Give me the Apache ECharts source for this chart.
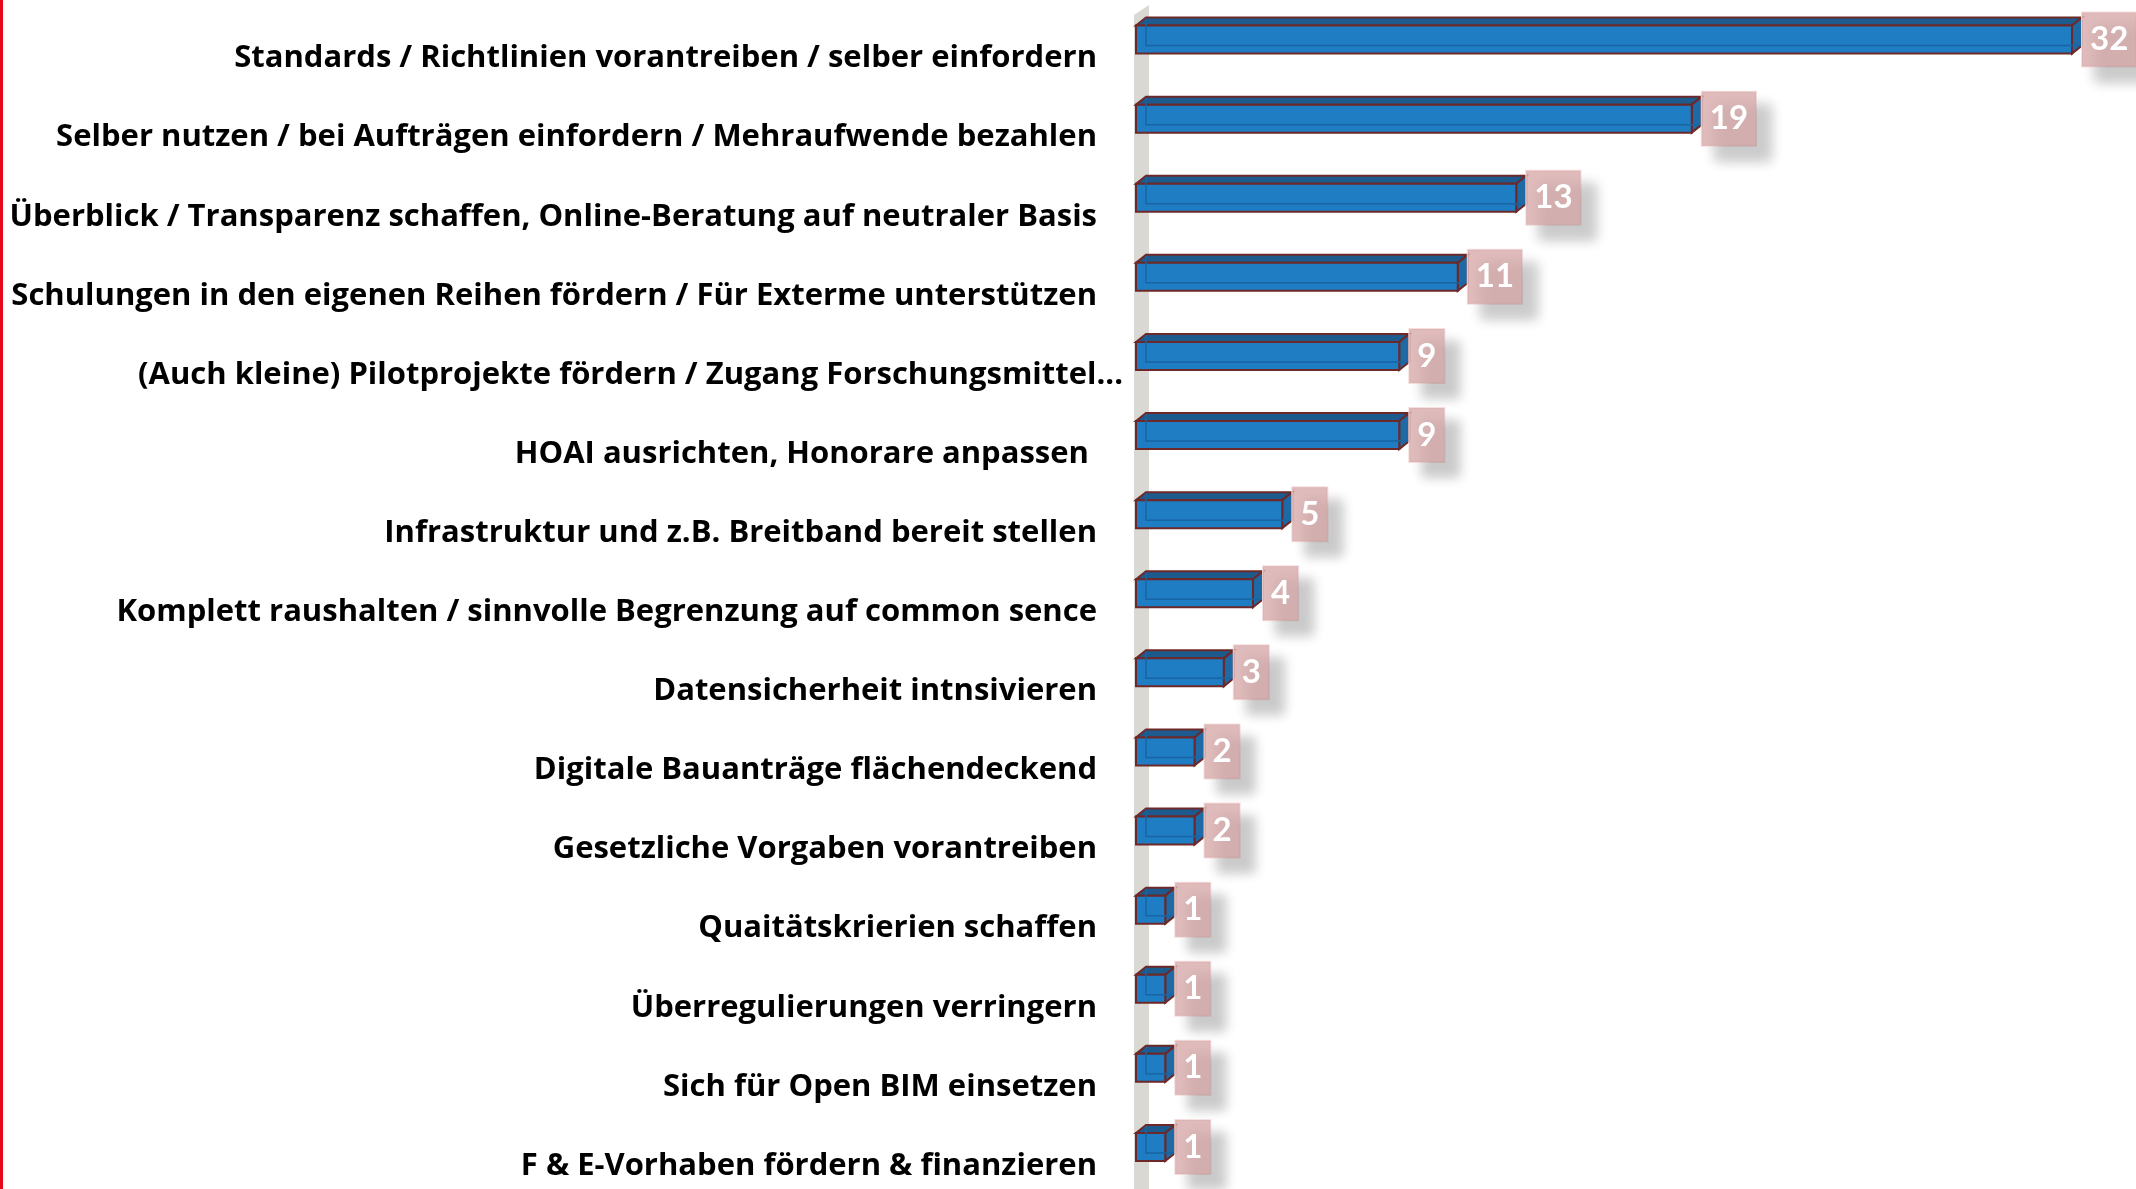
<!DOCTYPE html>
<html>
<head>
<meta charset="utf-8">
<script src="https://cdn.jsdelivr.net/npm/echarts@6/dist/echarts.min.js"></script>
<style>
    html, body {margin: 0; padding: 0; background: #fff;}
    #chart {width: 2136px; height: 1189px;}
</style>
</head>
<body>
<div id="chart"></div>
<script>
var categories = [
    'Standards / Richtlinien vorantreiben / selber einfordern',
    'Selber nutzen / bei Aufträgen einfordern / Mehraufwende bezahlen',
    'Überblick / Transparenz schaffen, Online-Beratung auf neutraler Basis',
    'Schulungen in den eigenen Reihen fördern / Für Exterme unterstützen',
    '(Auch kleine) Pilotprojekte fördern / Zugang Forschungsmittel...',
    'HOAI ausrichten, Honorare anpassen ',
    'Infrastruktur und z.B. Breitband bereit stellen',
    'Komplett raushalten / sinnvolle Begrenzung auf common sence',
    'Datensicherheit intnsivieren',
    'Digitale Bauanträge flächendeckend',
    'Gesetzliche Vorgaben vorantreiben',
    'Quaitätskrierien schaffen',
    'Überregulierungen verringern',
    'Sich für Open BIM einsetzen',
    'F & E-Vorhaben fördern & finanzieren'
];
var values = [32, 19, 13, 11, 9, 9, 5, 4, 3, 2, 2, 1, 1, 1, 1];

var DX = 10, DY = 8, HALF = 14;
var EDGE = '#6e2828';

function renderBar(params, api) {
    var v = api.value(0);
    var idx = api.value(1);
    var p0 = api.coord([0, idx]);
    var p1 = api.coord([v, idx]);
    var x0 = p0[0], x1 = p1[0], c = p0[1];
    var yt = c - HALF, yb = c + HALF;

    return {
        type: 'group',
        children: [
            {
                type: 'polygon',
                shape: {points: [[x0, yt], [x0 + DX, yt - DY], [x1 + DX, yt - DY], [x1, yt]]},
                style: {fill: '#1d5b8e', stroke: EDGE, lineWidth: 2}
            },
            {
                type: 'polygon',
                shape: {points: [[x1, yt], [x1 + DX, yt - DY], [x1 + DX, yb - DY], [x1, yb]]},
                style: {fill: '#1e6aa6', stroke: EDGE, lineWidth: 2}
            },
            {
                type: 'rect',
                shape: {x: x0, y: yt, width: x1 - x0, height: yb - yt},
                style: {fill: '#1f7dc4', stroke: EDGE, lineWidth: 2}
            },
            // back edges seen through the box
            {
                type: 'polyline',
                shape: {points: [[x0 + DX, yt - DY + 1], [x0 + DX, yb - DY], [x1 + DX - 1, yb - DY]]},
                style: {stroke: '#1964a3', lineWidth: 1.5, fill: null}
            },
            {
                type: 'text',
                x: x1 + DX,
                y: c,
                style: {
                    text: String(v),
                    fill: '#ffffff',
                    font: 'bold 33px Lato',
                    align: 'left',
                    verticalAlign: 'middle',
                    lineHeight: 34,
                    padding: [10, 8, 10, 8],
                    backgroundColor: 'rgba(212,164,164,0.75)',
                    borderColor: 'rgba(245,220,220,0.9)',
                    borderWidth: 1,
                    shadowBlur: 12,
                    shadowColor: 'rgba(0,0,0,0.28)',
                    shadowOffsetX: 14,
                    shadowOffsetY: 14
                }
            }
        ]
    };
}

var yData = categories.map(function (name, i) {
    if (i === 4) {
        // this one sticks out past the others, like the original
        return {value: name, textStyle: {padding: [0, -26, 0, 0], verticalAlign: 'top', lineHeight: 38}};
    }
    return name;
});

var myChart = echarts.init(document.getElementById('chart'));

option = {
    backgroundColor: '#ffffff',
    animation: false,
    grid: {left: 1136, right: 5.5, top: 0, bottom: 2.5},
    xAxis: {
        type: 'value',
        min: 0,
        max: 34,
        show: false,
        splitLine: {show: false}
    },
    yAxis: {
        type: 'category',
        inverse: true,
        data: yData,
        axisLine: {show: false},
        axisTick: {show: false},
        axisLabel: {
            margin: 39,
            color: '#000000',
            fontFamily: 'Open Sans',
            fontWeight: 'bold',
            fontSize: 31,
            verticalAlign: 'top',
            lineHeight: 38,
            interval: 0
        }
    },
    graphic: [
        {
            type: 'rect',
            z: -10,
            shape: {x: 0, y: 0, width: 3, height: 1189},
            style: {fill: '#e8081c'}
        },
        {
            type: 'polygon',
            z: -10,
            shape: {points: [[1134, 15], [1149, 5], [1149, 1189], [1134, 1189]]},
            style: {fill: '#d9d8d3'}
        }
    ],
    series: [
        {
            type: 'custom',
            renderItem: renderBar,
            encode: {x: 0, y: 1},
            data: values.map(function (v, i) { return [v, i]; }),
            z: 5
        }
    ]
};

myChart.setOption(option);
</script>
</body>
</html>
